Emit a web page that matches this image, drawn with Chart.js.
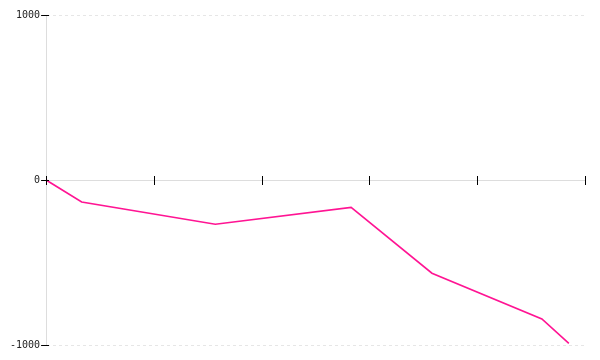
<!DOCTYPE html>
<html>
<head>
<meta charset="utf-8">
<script src="https://cdn.jsdelivr.net/npm/chart.js@4/dist/chart.umd.min.js"></script>
<style>
  html, body { margin: 0; padding: 0; background: #fff; }
  #wrap { width: 600px; height: 360px; }
</style>
</head>
<body>
<div id="wrap"><canvas id="chart"></canvas></div>
<script>
// data
const xValues = [0, 0.33, 1.57, 2.83, 3.58, 4.6, 4.85];
const yValues = [0, -133, -268, -166, -565, -842, -990];
const xTicks = [0, 1, 2, 3, 4, 5];
const yTicks = [-1000, 0, 1000];

const points = xValues.map((x, i) => ({ x: x, y: yValues[i] }));

// black tick marks crossing the zero line and the y axis, like the reference
const crossTicks = {
  id: 'crossTicks',
  afterDraw(chart) {
    const { ctx, scales } = chart;
    const y0 = scales.y.getPixelForValue(0);
    const x0 = Math.round(scales.x.getPixelForValue(0));
    ctx.save();
    ctx.strokeStyle = '#000';
    ctx.lineWidth = 1;
    xTicks.forEach(t => {
      const px = Math.round(scales.x.getPixelForValue(t)) + 0.5;
      ctx.beginPath();
      ctx.moveTo(px, y0 - 4);
      ctx.lineTo(px, y0 + 5);
      ctx.stroke();
    });
    yTicks.forEach(t => {
      const py = Math.round(scales.y.getPixelForValue(t)) + 0.5;
      ctx.beginPath();
      ctx.moveTo(x0, py);
      ctx.lineTo(x0 + 3, py);
      ctx.stroke();
    });
    ctx.restore();
  }
};

new Chart(document.getElementById('chart'), {
  type: 'line',
  data: {
    datasets: [{
      data: points,
      borderColor: '#ff1493',
      borderWidth: 1.6,
      pointRadius: 0,
      tension: 0,
      fill: false
    }]
  },
  options: {
    responsive: true,
    maintainAspectRatio: false,
    animation: false,
    layout: { padding: { left: 9, right: 15, top: 15, bottom: 15 } },
    plugins: {
      legend: { display: false },
      tooltip: { enabled: false }
    },
    scales: {
      x: {
        type: 'linear',
        min: 0,
        max: 5,
        display: false
      },
      y: {
        min: -1000,
        max: 1000,
        afterBuildTicks: (scale) => {
          scale.ticks = yTicks.map(v => ({ value: v }));
        },
        ticks: {
          color: '#222',
          padding: 1,
          font: { family: 'DejaVu Sans Mono', size: 10 },
          callback: (v) => String(v)
        },
        grid: {
          color: (c) => c.tick && c.tick.value === 0 ? '#dddddd' : '#e6e6e6',
          tickColor: '#000',
          tickLength: 5,
          lineWidth: 1
        },
        border: {
          display: true,
          color: '#dddddd',
          dash: (c) => c.tick && c.tick.value !== 0 ? [3, 3] : []
        }
      }
    }
  },
  plugins: [crossTicks]
});
</script>
</body>
</html>
